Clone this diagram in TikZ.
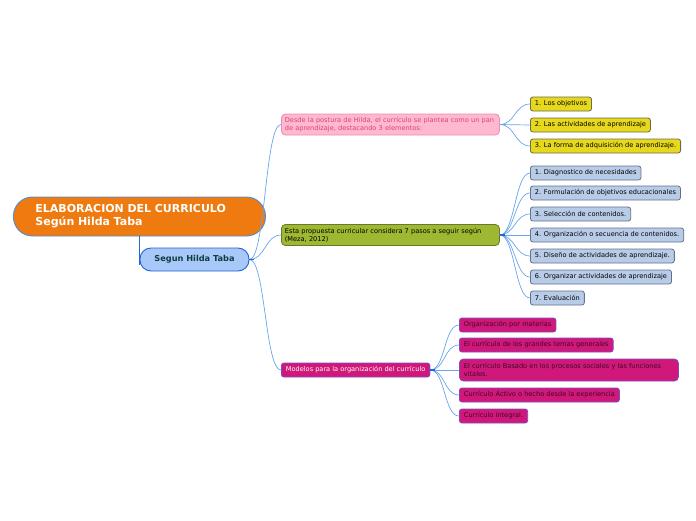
\documentclass[tikz,border=0pt]{standalone}
\usepackage{fontspec}
\setmainfont{DejaVu Sans}
\usepackage{tikz}

\definecolor{rootfill}{HTML}{EE7A10}
\definecolor{rootline}{HTML}{4A8EDC}
\definecolor{subfill}{HTML}{A8C8FA}
\definecolor{subline}{HTML}{1F62D4}
\definecolor{subtext}{HTML}{0E3E40}
\definecolor{pinkfill}{HTML}{FFB8D0}
\definecolor{pinkline}{HTML}{E890AC}
\definecolor{pinktext}{HTML}{D4447A}
\definecolor{yelfill}{HTML}{E6D81C}
\definecolor{yelline}{HTML}{6E6C50}
\definecolor{grnfill}{HTML}{9EB832}
\definecolor{grnline}{HTML}{6A7A2A}
\definecolor{bluefill}{HTML}{B8CCE8}
\definecolor{blueline}{HTML}{62728C}
\definecolor{magfill}{HTML}{D0187A}
\definecolor{magline}{HTML}{7A4CC8}
\definecolor{magtext}{HTML}{3A0A22}
\definecolor{linkcol}{HTML}{6AA4EC}
\definecolor{stubcol}{HTML}{2466D8}

\begin{document}
\begin{tikzpicture}[x=1pt,y=-1pt]
	\tikzset{
		box/.style = {draw, anchor=west, line width=0.8pt, rounded corners=2.5pt,
			font=\fontsize{6.6}{8}\selectfont, inner xsep=4.5pt, inner ysep=2pt,
			minimum height=14pt},
		wide/.style = {box, align=left, text width=#1, inner xsep=3.5pt, minimum height=21pt, rounded corners=4pt},
		yel/.style = {box, fill=yelfill, draw=yelline},
		blu/.style = {box, fill=bluefill, draw=blueline},
		mag/.style = {box, fill=magfill, draw=magline, text=magtext},
		link/.style = {draw=linkcol, line width=0.7pt},
		stub/.style = {draw=stubcol, line width=1.4pt}
	}
	\useasboundingbox (0,0) rectangle (696,520);

	% central topic
	\node[draw=rootline, fill=rootfill, text=white, line width=0.9pt, rounded corners=19pt,
		anchor=west, minimum width=252pt, minimum height=39pt, inner xsep=22pt,
		align=left, text width=208pt, font=\fontsize{11}{13}\selectfont\bfseries]
		(M) at (13,216.5) {ELABORACION DEL CURRICULO\\Según Hilda Taba};
	\node[draw=subline, fill=subfill, text=subtext, line width=0.9pt, rounded corners=11pt,
		minimum width=109pt, minimum height=23pt, font=\fontsize{8.2}{10}\selectfont\bfseries]
		(S) at (194.5,259.5) {Segun Hilda Taba};
	\draw[stub] (M.south -| S.west) -- ([yshift=-5pt]S.west);

	% first level
	\node[wide=211pt, fill=pinkfill, draw=pinkline, text=pinktext] (P) at (281,124.5)
		{Desde la postura de Hilda, el currículo se plantea como un pan\\de aprendizaje, destacando 3 elementos:};
	\node[wide=211pt, fill=grnfill, draw=grnline, text=black] (G) at (281,235)
		{Esta propuesta curricular considera 7 pasos a seguir según\\(Meza, 2012)};
	\node[box, fill=magfill, draw=magline, text=white] (K) at (281,370)
		{Modelos para la organización del currículo};

	% elementos
	\node[yel] (Y1) at (530,104) {1. Los objetivos};
	\node[yel] (Y2) at (530,125) {2. Las actividades de aprendizaje};
	\node[yel] (Y3) at (530,146) {3. La forma de adquisición de aprendizaje.};

	% pasos
	\node[blu] (B1) at (530,173) {1. Diagnostico de necesidades};
	\node[blu] (B2) at (530,193) {2. Formulación de objetivos educacionales};
	\node[blu] (B3) at (530,214) {3. Selección de contenidos.};
	\node[blu] (B4) at (530,235) {4. Organización o secuencia de contenidos.};
	\node[blu] (B5) at (530,256) {5. Diseño de actividades de aprendizaje.};
	\node[blu] (B6) at (530,277) {6. Organizar actividades de aprendizaje};
	\node[blu] (B7) at (530,298) {7. Evaluación};

	% modelos
	\node[mag] (C1) at (459,325) {Organización por materias};
	\node[mag] (C2) at (459,345) {El currículo de los grandes temas generales};
	\node[mag, align=left, text width=210pt, minimum height=22pt, rounded corners=4pt] (C3) at (459,370)
		{El currículo Basado en los procesos sociales y las funciones\\vitales.};
	\node[mag] (C4) at (459,395) {Currículo Activo o hecho desde la experiencia};
	\node[mag] (C5) at (459,416) {Currículo integral.};

	% connectors
	\draw[link] (S.east) .. controls +(16,0) and +(-16,0) .. (P.west);
	\draw[link] (S.east) .. controls +(16,0) and +(-16,0) .. (G.west);
	\draw[link] (S.east) .. controls +(16,0) and +(-16,0) .. (K.west);
	\draw[link] (P.east) .. controls +(15,0) and +(-15,0) .. (Y1.west);
	\draw[link] (P.east) .. controls +(15,0) and +(-15,0) .. (Y2.west);
	\draw[link] (P.east) .. controls +(15,0) and +(-15,0) .. (Y3.west);
	\draw[link] (G.east) .. controls +(15,0) and +(-15,0) .. (B1.west);
	\draw[link] (G.east) .. controls +(15,0) and +(-15,0) .. (B2.west);
	\draw[link] (G.east) .. controls +(15,0) and +(-15,0) .. (B3.west);
	\draw[link] (G.east) .. controls +(15,0) and +(-15,0) .. (B4.west);
	\draw[link] (G.east) .. controls +(15,0) and +(-15,0) .. (B5.west);
	\draw[link] (G.east) .. controls +(15,0) and +(-15,0) .. (B6.west);
	\draw[link] (G.east) .. controls +(15,0) and +(-15,0) .. (B7.west);
	\draw[link] (K.east) .. controls +(15,0) and +(-15,0) .. (C1.west);
	\draw[link] (K.east) .. controls +(15,0) and +(-15,0) .. (C2.west);
	\draw[link] (K.east) .. controls +(15,0) and +(-15,0) .. (C3.west);
	\draw[link] (K.east) .. controls +(15,0) and +(-15,0) .. (C4.west);
	\draw[link] (K.east) .. controls +(15,0) and +(-15,0) .. (C5.west);
	\draw[stub] (S.east) -- ++(5,0);
	\draw[stub] (G.east) -- ++(5,0);
	\draw[stub] (K.east) -- ++(5,0);
\end{tikzpicture}
\end{document}
